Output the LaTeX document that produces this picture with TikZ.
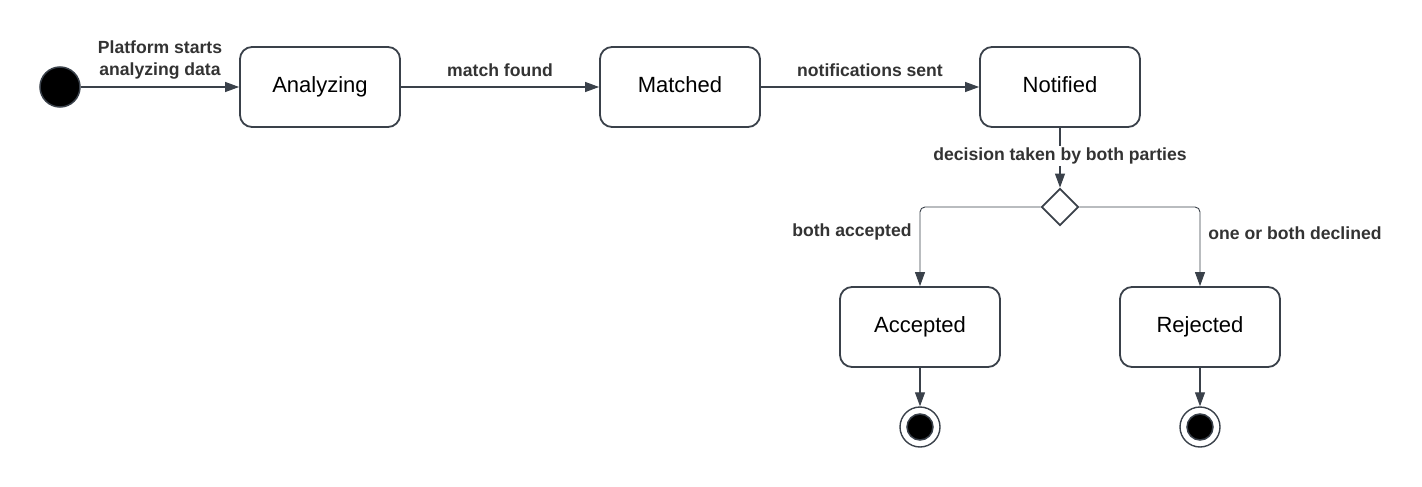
\documentclass[tikz,border=0pt]{standalone}
\usepackage{fontspec}
\setmainfont{Liberation Sans}
\usetikzlibrary{shapes.geometric,arrows.meta,positioning}
\definecolor{ink}{HTML}{3A414A}
\definecolor{txt}{HTML}{333333}
\begin{document}
\begin{tikzpicture}[x=1pt,y=-1pt,
  state/.style={draw=ink,line width=1.8pt,rounded corners=12pt,minimum width=160pt,minimum height=80pt,inner sep=0pt,font=\fontsize{22}{26}\selectfont,text=black,text height=16pt,text depth=5pt},
  lbl/.style={font=\bfseries\fontsize{17.6}{22}\selectfont,text=txt,align=center},
  conn/.style={draw=ink,line width=1.1pt,-{Triangle[length=14pt,width=10pt]}},
  branch/.style={draw=ink,line width=0.9pt,rounded corners=5pt,-{Triangle[length=14pt,width=10pt]}},
  finout/.style={circle,draw=ink,line width=1.4pt,minimum size=40pt,inner sep=0pt,fill=white},
  finin/.style={circle,fill=black,draw=ink,line width=1.5pt,minimum size=26pt,inner sep=0pt}]
\useasboundingbox (0,0) rectangle (1422,487);
\node[circle,fill=black,draw=ink,line width=1.5pt,minimum size=40pt,inner sep=0pt] (init) at (60,87) {};
\node[state] (ana) at (320,87) {Analyzing};
\node[state] (mat) at (680,87) {Matched};
\node[state] (not) at (1060,87) {Notified};
\node[diamond,draw=ink,line width=1.8pt,minimum width=37pt,minimum height=37pt,inner sep=0pt,aspect=1] (dec) at (1060,207) {};
\node[state] (acc) at (920,327) {Accepted};
\node[state] (rej) at (1200,327) {Rejected};
\node[finout] (fin1) at (920,427) {};
\node[finin] (fin1i) at (920,427) {};
\node[finout] (fin2) at (1200,427) {};
\node[finin] (fin2i) at (1200,427) {};
\draw[conn] (init) -- (ana);
\draw[conn] (ana) -- (mat);
\draw[conn] (mat) -- (not);
\draw[conn] (not) -- (dec);
\draw[branch] (dec.west) -| (acc.north);
\draw[branch] (dec.east) -| (rej.north);
\draw[conn] (acc) -- (fin1);
\draw[conn] (rej) -- (fin2);
\node[lbl] (l1) at (160,60) {Platform starts\\analyzing data};
\node[lbl] (l2) at (500,70) {match found};
\node[lbl] (l3) at (870,70) {notifications sent};
\node[lbl,fill=white,inner sep=2pt] (l4) at (1060,156) {decision taken by both parties};
\node[lbl] (l5) at (852,232) {both accepted};
\node[lbl] (l6) at (1295,233) {one or both declined};
\end{tikzpicture}
\end{document}
